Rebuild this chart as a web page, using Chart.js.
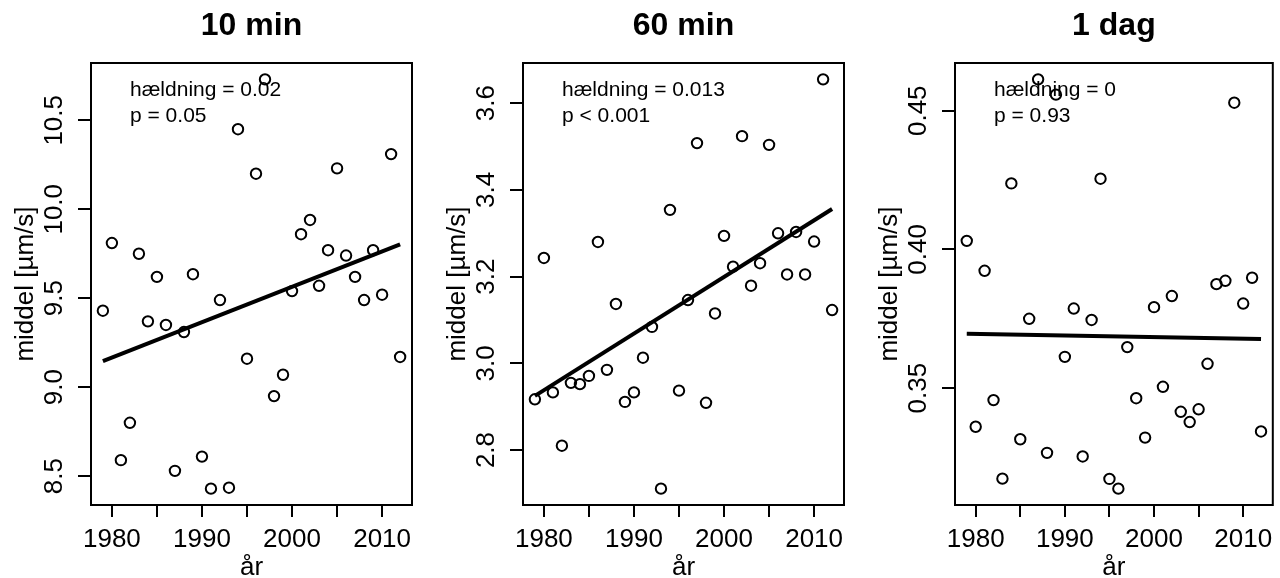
<!DOCTYPE html>
<html><head><meta charset="utf-8">
<script src="https://cdn.jsdelivr.net/npm/chart.js@4.4.1/dist/chart.umd.min.js"></script>
<style>
html,body{margin:0;padding:0;background:#fff;overflow:hidden;width:1280px;height:578px;}
.p{position:absolute;top:0;height:578px;}
canvas{display:block;}
</style></head><body>
<div class="p" style="left:0;width:432px"><canvas id="c0" width="432" height="578"></canvas></div>
<div class="p" style="left:432px;width:432px"><canvas id="c1" width="432" height="578"></canvas></div>
<div class="p" style="left:864px;width:416px"><canvas id="c2" width="416" height="578"></canvas></div>
<script>
const years = [1979,1980,1981,1982,1983,1984,1985,1986,1987,1988,1989,1990,1991,1992,1993,1994,1995,1996,1997,1998,1999,2000,2001,2002,2003,2004,2005,2006,2007,2008,2009,2010,2011,2012];
const panelTitles = ['10 min','60 min','1 dag'];
const mean10min = [9.43,9.81,8.59,8.80,9.75,9.37,9.62,9.35,8.53,9.31,9.635,8.61,8.43,9.49,8.435,10.45,9.16,10.20,10.73,8.95,9.07,9.54,9.86,9.94,9.57,9.77,10.23,9.74,9.62,9.49,9.77,9.52,10.31,9.17];
const mean60min = [2.917,3.243,2.933,2.810,2.955,2.952,2.971,3.280,2.985,3.137,2.911,2.933,3.013,3.084,2.711,3.354,2.937,3.146,3.508,2.909,3.115,3.294,3.223,3.524,3.179,3.231,3.504,3.300,3.205,3.303,3.205,3.281,3.655,3.123];
const mean1dag = [0.4031,0.3361,0.3923,0.3457,0.3174,0.4238,0.3316,0.3750,0.4613,0.3267,0.4558,0.3613,0.3787,0.3254,0.3746,0.4255,0.3173,0.3138,0.3648,0.3464,0.3322,0.3792,0.3505,0.3832,0.3415,0.3378,0.3424,0.3588,0.3875,0.3887,0.4529,0.3805,0.3898,0.3344];
const fitYears = [1979, 2012];
const fit10min = [9.146, 9.803];
const fit60min = [2.925, 3.356];
const fit1dag = [0.3696, 0.3677];
const slopeLabels = ['hældning = 0.02','hældning = 0.013','hældning = 0'];
const pLabels = ['p = 0.05','p < 0.001','p = 0.93'];
const xTicks = [1980,1985,1990,1995,2000,2005,2010];
const xTickLabels = ['1980','','1990','','2000','','2010'];
const yTicks10min = [8.5,9.0,9.5,10.0,10.5];
const yTickLabels10min = ['8.5','9.0','9.5','10.0','10.5'];
const yTicks60min = [2.8,3.0,3.2,3.4,3.6];
const yTickLabels60min = ['2.8','3.0','3.2','3.4','3.6'];
const yTicks1dag = [0.35,0.40,0.45];
const yTickLabels1dag = ['0.35','0.40','0.45'];
const xTitle = 'år';
const yTitle = 'middel [µm/s]';

const FAM = '"Liberation Sans", Arial, Helvetica, sans-serif';

function rlim(arr){ const mn=Math.min(...arr), mx=Math.max(...arr), d=(mx-mn)*0.04; return [mn-d, mx+d]; }

const panels = [
  {vals:mean10min, fit:fit10min, yt:yTicks10min, yl:yTickLabels10min},
  {vals:mean60min, fit:fit60min, yt:yTicks60min, yl:yTickLabels60min},
  {vals:mean1dag, fit:fit1dag, yt:yTicks1dag, yl:yTickLabels1dag}
];

panels.forEach((p, idx) => {
  const canvas = document.getElementById('c'+idx);
  const W = canvas.width;
  const xl = rlim(years), yl = rlim(p.vals);
  const deco = {
    id:'deco'+idx,
    afterDraw(chart){
      const {ctx, chartArea:a, scales:{y}} = chart;
      ctx.save();
      ctx.strokeStyle='#000'; ctx.lineWidth=2;
      ctx.strokeRect(a.left, a.top, a.right-a.left, a.bottom-a.top);
      ctx.fillStyle='#000';
      ctx.font = '26px '+FAM;
      ctx.textAlign='center'; ctx.textBaseline='alphabetic';
      p.yt.forEach((v,i)=>{
        const py = y.getPixelForValue(v);
        ctx.save(); ctx.translate(a.left-29, py); ctx.rotate(-Math.PI/2);
        ctx.fillText(p.yl[i], 0, 0); ctx.restore();
      });
      const cy = (a.top+a.bottom)/2, cx = (a.left+a.right)/2;
      ctx.save(); ctx.translate(a.left-58, cy); ctx.rotate(-Math.PI/2);
      ctx.fillText(yTitle, 0, 0); ctx.restore();
      ctx.fillText(xTitle, cx, a.bottom+70);
      ctx.font = 'bold 32px '+FAM;
      ctx.fillText(panelTitles[idx], cx, a.top-28);
      ctx.font = '21px '+FAM;
      ctx.textAlign='left';
      ctx.fillText(slopeLabels[idx], a.left+39, a.top+32.7);
      ctx.fillText(pLabels[idx], a.left+39, a.top+59.3);
      ctx.restore();
    }
  };
  new Chart(canvas, {
    type:'scatter',
    data:{datasets:[
      {data: years.map((yr,i)=>({x:yr, y:p.vals[i]})), pointStyle:'circle', pointRadius:5.2, pointHoverRadius:5.2,
       borderColor:'#000', backgroundColor:'rgba(0,0,0,0)', pointBorderWidth:2, borderWidth:2, showLine:false},
      {data: fitYears.map((yr,i)=>({x:yr, y:p.fit[i]})), showLine:true, borderColor:'#000', borderWidth:4,
       pointRadius:0, pointHoverRadius:0, fill:false, borderCapStyle:'butt'}
    ]},
    options:{
      responsive:false, animation:false, events:[], devicePixelRatio:1,
      layout:{padding:{top:63, right:W-412, bottom:0, left:0}},
      plugins:{legend:{display:false}, tooltip:{enabled:false}, title:{display:false}},
      scales:{
        x:{type:'linear', min:xl[0], max:xl[1],
           afterBuildTicks:s=>{ s.ticks = xTicks.map(v=>({value:v})); },
           ticks:{callback:(v,i)=>xTickLabels[i], font:{size:26, family:FAM}, color:'#000', padding:7, maxRotation:0, minRotation:0, autoSkip:false},
           grid:{drawOnChartArea:false, drawTicks:true, tickLength:12, color:'#000', lineWidth:2},
           border:{display:false},
           afterFit:s=>{ s.height=73; s.paddingLeft=0; s.paddingRight=0; }},
        y:{type:'linear', min:yl[0], max:yl[1],
           afterBuildTicks:s=>{ s.ticks = p.yt.map(v=>({value:v})); },
           ticks:{display:false},
           grid:{drawOnChartArea:false, drawTicks:true, tickLength:13, color:'#000', lineWidth:2},
           border:{display:false},
           afterFit:s=>{ s.width=91; s.paddingTop=0; s.paddingBottom=0; }}
      }
    },
    plugins:[deco]
  });
});
</script>
</body></html>
